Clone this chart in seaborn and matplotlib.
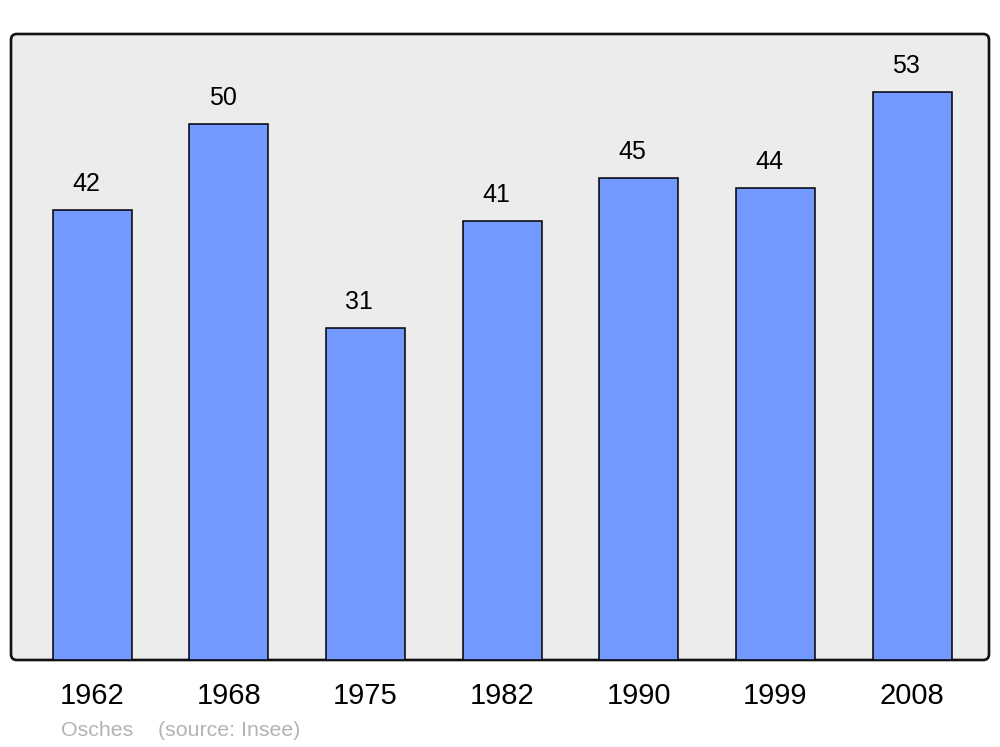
import numpy as np
import pandas as pd
import matplotlib
matplotlib.use("Agg")
import matplotlib.pyplot as plt
from matplotlib.patches import FancyBboxPatch
import seaborn as sns

years = ["1962", "1968", "1975", "1982", "1990", "1999", "2008"]
population = [42, 50, 31, 41, 45, 44, 53]

sns.set_style("white")
plt.rcParams['font.family'] = ['Liberation Sans', 'DejaVu Sans']

df = pd.DataFrame({"year": years, "pop": population})

fig = plt.figure(figsize=(10, 7.47), dpi=100)
ax = fig.add_axes([0.011, 87 / 747, 0.978, 626 / 747])

sns.barplot(data=df, x="year", y="pop", color="#7399ff", saturation=1,
            width=0.578, edgecolor="black", linewidth=1.1, ax=ax, zorder=2)

ax.set_xlim(-0.593, 6.563)
ax.set_ylim(0, 58.4)
ax.patch.set_visible(False)
for s in ax.spines.values():
    s.set_visible(False)

frame = FancyBboxPatch((0, 0), 1, 1, boxstyle="round,pad=0,rounding_size=0.006",
                       transform=ax.transAxes, facecolor="#ececec",
                       edgecolor="#111111", linewidth=1.9, zorder=0,
                       clip_on=False, mutation_aspect=978 / 626)
ax.add_patch(frame)

for i, v in enumerate(population):
    ax.annotate(str(v), (i, v), xytext=(-4.3, 10), textcoords="offset points",
                ha="center", va="bottom", fontsize=18, color="black")

ax.set_yticks([])
ax.set_xlabel("")
ax.set_ylabel("")
ax.tick_params(axis="x", length=0, pad=16, labelsize=21, labelcolor="black")

fig.text(0.061, 1 - 731 / 747, "Osches", color="#b3b3b3", fontsize=15.4, va="center")
fig.text(0.158, 1 - 731 / 747, "(source: Insee)", color="#b3b3b3", fontsize=15.4, va="center")

fig.savefig("out.png", dpi=100)
